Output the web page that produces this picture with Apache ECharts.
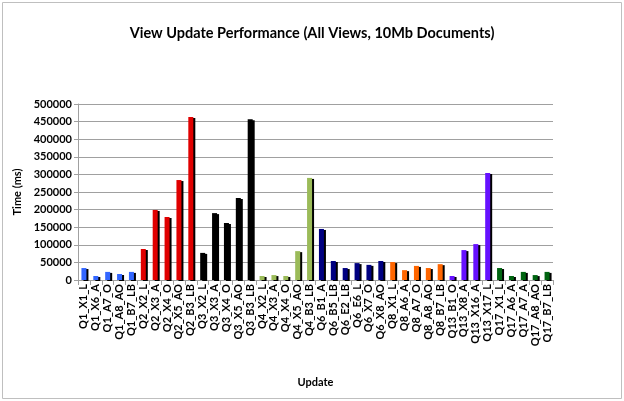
<!DOCTYPE html>
<html>
<head>
<meta charset="utf-8">
<script src="https://cdn.jsdelivr.net/npm/echarts@6/dist/echarts.min.js"></script>
<style>
  html, body { margin: 0; padding: 0; background: #fff; }
  #chart { width: 624px; height: 401px; }
</style>
</head>
<body>
<div id="chart"></div>
<script>
  // categories grouped by query
  const categories = [
    'Q1_X1_L', 'Q1_X6_A', 'Q1_A7_O', 'Q1_A8_AO', 'Q1_B7_LB',
    'Q2_X2_L', 'Q2_X3_A', 'Q2_X4_O', 'Q2_X5_AO', 'Q2_B3_LB',
    'Q3_X2_L', 'Q3_X3_A', 'Q3_X4_O', 'Q3_X5_AO', 'Q3_B3_LB',
    'Q4_X2_L', 'Q4_X3_A', 'Q4_X4_O', 'Q4_X5_AO', 'Q4_B3_LB',
    'Q6_B1_A', 'Q6_B5_LB', 'Q6_E2_LB', 'Q6_E6_L', 'Q6_X7_O', 'Q6_X8_AO',
    'Q8_X1_L', 'Q8_A6_A', 'Q8_A7_O', 'Q8_A8_AO', 'Q8_B7_LB',
    'Q13_B1_O', 'Q13_X8_A', 'Q13_X16_A', 'Q13_X17_L',
    'Q17_X1_L', 'Q17_A6_A', 'Q17_A7_A', 'Q17_A8_AO', 'Q17_B7_LB'
  ]
  const times = [
    34000, 11400, 23000, 17000, 23000,
    88000, 199000, 179000, 284000, 463000,
    77000, 190000, 162000, 233000, 457000,
    11400, 14000, 11400, 82000, 290000,
    145000, 54000, 34000, 48000, 43000, 54000,
    51000, 28000, 40000, 34000, 45000,
    11400, 85000, 102000, 304000,
    34000, 11400, 23000, 14000, 23000
  ]
  const yTicks = [0, 50000, 100000, 150000, 200000, 250000, 300000, 350000, 400000, 450000, 500000]

  // colour per query prefix
  const queryColors = {
    Q1: '#3366FF', Q2: '#E00000', Q3: '#000000', Q4: '#9BBB59',
    Q6: '#000080', Q8: '#FF6600', Q13: '#6611FF', Q17: '#006411'
  }

  function buildBarData() {
    let arr = []
    for (let i = 0; i < categories.length; i++) {
      let q = categories[i].split('_')[0]
      arr.push({ value: times[i], itemStyle: { color: queryColors[q] } })
    }
    return arr
  }

  const font = 'Lato, "Liberation Sans", sans-serif'
  let myChart = echarts.init(document.getElementById('chart'))
  myChart.setOption({
    backgroundColor: '#fff',
    animation: false,
    graphic: [{
      type: 'rect',
      shape: { x: 2.5, y: 2.5, width: 619, height: 396 },
      style: { fill: 'none', stroke: '#bfbfbf', lineWidth: 1 }
    }],
    title: {
      text: 'View Update Performance (All Views, 10Mb Documents)',
      left: 'center',
      top: 21,
      textStyle: { fontFamily: font, fontSize: 14.5, fontWeight: 'bold', color: '#000' }
    },
    grid: { left: 78, right: 71, top: 104, bottom: 121, containLabel: false },
    xAxis: {
      type: 'category',
      data: categories,
      name: 'Update',
      nameLocation: 'middle',
      nameGap: 97,
      nameTextStyle: { fontFamily: font, fontSize: 11, fontWeight: 'bold', color: '#000' },
      axisLine: { lineStyle: { color: '#a0a0a0', width: 1 } },
      axisTick: { show: true, alignWithLabel: false, length: 5, lineStyle: { color: '#a0a0a0' } },
      axisLabel: {
        interval: 0, rotate: 90, fontFamily: font, fontSize: 11, fontWeight: 'bold',
        color: '#000', margin: 4
      }
    },
    yAxis: {
      type: 'value',
      min: yTicks[0],
      max: yTicks[yTicks.length - 1],
      interval: 50000,
      name: 'Time (ms)',
      nameLocation: 'middle',
      nameGap: 52,
      nameTextStyle: { fontFamily: font, fontSize: 11, fontWeight: 'bold', color: '#000' },
      axisLine: { show: true, lineStyle: { color: '#a0a0a0' } },
      axisTick: { show: true, length: 4, lineStyle: { color: '#a0a0a0' } },
      axisLabel: {
        fontFamily: font, fontSize: 11, fontWeight: 'bold', color: '#000', margin: 6,
        formatter: function (v) { return String(v) }
      },
      splitLine: { lineStyle: { color: '#a0a0a0', width: 1 } }
    },
    series: [{
      type: 'bar',
      data: buildBarData(),
      barWidth: 5,
      itemStyle: {
        shadowColor: '#000',
        shadowBlur: 0,
        shadowOffsetX: 2,
        shadowOffsetY: 1
      }
    }]
  })
</script>
</body>
</html>
